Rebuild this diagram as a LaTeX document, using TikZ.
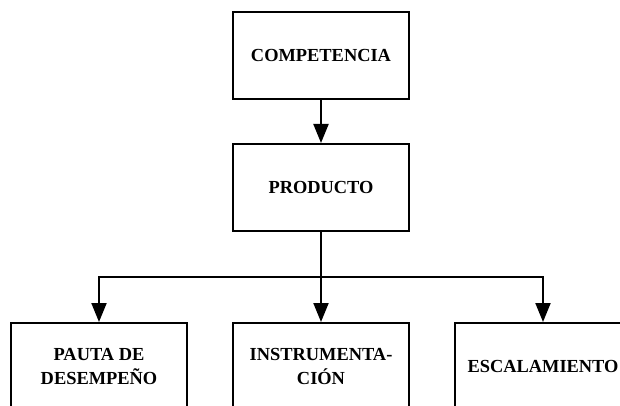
\documentclass[tikz,border=0pt]{standalone}
\usepackage{fontspec}
\setmainfont{Liberation Serif}
\usepackage{tikz}
\usetikzlibrary{arrows.meta,positioning}
\tikzstyle{caja}=[rectangle,draw=black,line width=2pt,inner sep=0pt,minimum width=176pt,minimum height=87pt,align=center,font=\fontsize{18.4}{24}\selectfont\bfseries]
\tikzstyle{flecha}=[-{Triangle[length=19pt,width=15pt]},line width=2pt]

\begin{document}
\begin{tikzpicture}
    \useasboundingbox (0,0) rectangle (620pt,-406pt);

    % Cajas
    \node[caja] (comp) at (321pt,-55.5pt) {COMPETENCIA};
    \node[caja] (prod) [below=43pt of comp] {PRODUCTO};
    \node[caja] (instr) [below=90pt of prod] {INSTRUMENTA-\\CIÓN};
    \node[caja] (pauta) [left=44pt of instr] {PAUTA DE\\DESEMPEÑO};
    \node[caja] (escal) [right=44pt of instr] {ESCALAMIENTO};
    \coordinate[below=45pt of prod] (rama);

    % Flechas
    \draw [flecha] (comp) -- (prod);
    \draw [flecha] (prod) -- (instr);
    \draw [flecha] (rama) -| (pauta);
    \draw [flecha] (rama) -| (escal);

\end{tikzpicture}
\end{document}
